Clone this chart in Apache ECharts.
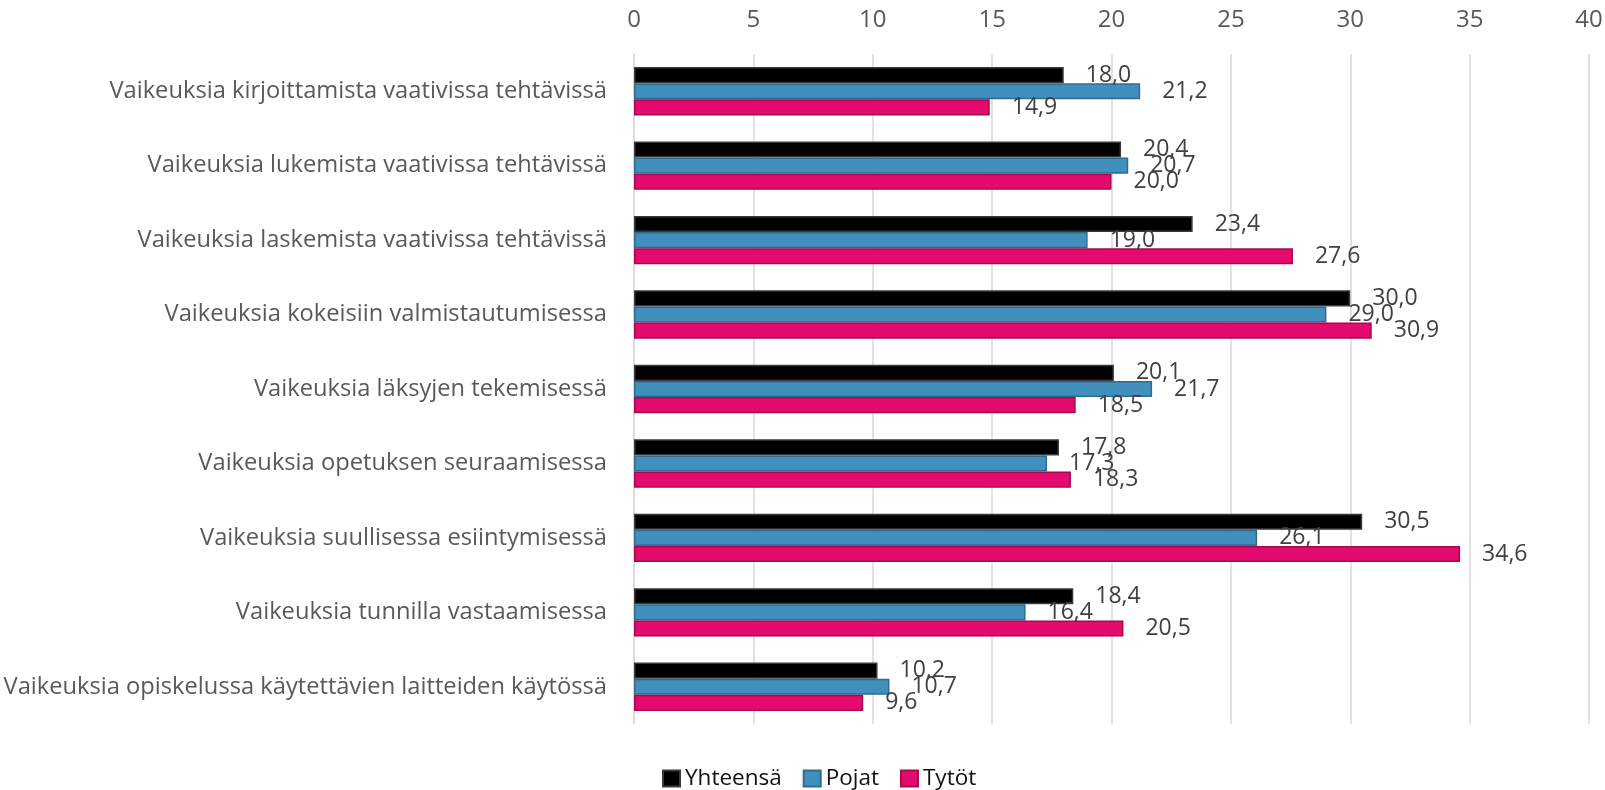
<!DOCTYPE html>
<html>
<head>
<meta charset="utf-8">
<script src="https://cdn.jsdelivr.net/npm/echarts@6/dist/echarts.min.js"></script>
<style>
  html, body { margin: 0; padding: 0; background: #fff; }
  #chart { width: 1605px; height: 790px; }
</style>
</head>
<body>
<div id="chart"></div>
<script>
// kategoriat ylhäältä alas
const categories = [
    'Vaikeuksia kirjoittamista vaativissa tehtävissä',
    'Vaikeuksia lukemista vaativissa tehtävissä',
    'Vaikeuksia laskemista vaativissa tehtävissä',
    'Vaikeuksia kokeisiin valmistautumisessa',
    'Vaikeuksia läksyjen tekemisessä',
    'Vaikeuksia opetuksen seuraamisessa',
    'Vaikeuksia suullisessa esiintymisessä',
    'Vaikeuksia tunnilla vastaamisessa',
    'Vaikeuksia opiskelussa käytettävien laitteiden käytössä'
];
const seriesNames = ['Yhteensä', 'Pojat', 'Tytöt'];
const yhteensa = [18.0, 20.4, 23.4, 30.0, 20.1, 17.8, 30.5, 18.4, 10.2];
const pojat = [21.2, 20.7, 19.0, 29.0, 21.7, 17.3, 26.1, 16.4, 10.7];
const tytot = [14.9, 20.0, 27.6, 30.9, 18.5, 18.3, 34.6, 20.5, 9.6];
const xTicks = [0, 5, 10, 15, 20, 25, 30, 35, 40];

const FONT = '"Open Sans", "Noto Sans", sans-serif';

let myChart = echarts.init(document.getElementById('chart'));

function barSeries(name, data, fill, border) {
    return {
        name: name,
        type: 'bar',
        data: data,
        barGap: '0%',
        barCategoryGap: '35%',
        itemStyle: { color: fill, borderColor: border, borderWidth: 1.5 },
        label: {
            show: true,
            position: 'right',
            distance: 22,
            color: '#404040',
            fontSize: 23,
            fontFamily: FONT,
            formatter: p => p.value.toFixed(1).replace('.', ',')
        }
    };
}

let option = {
    animation: false,
    grid: { left: 634, right: 16, top: 54, bottom: 66, containLabel: false, outerBoundsMode: 'none' },
    xAxis: {
        type: 'value',
        position: 'top',
        min: xTicks[0],
        max: xTicks[xTicks.length - 1],
        interval: 5,
        axisLine: { show: false },
        axisTick: { show: false },
        axisLabel: { color: '#595959', fontSize: 24, fontFamily: FONT, margin: 22 },
        splitLine: { lineStyle: { color: '#d9d9d9', width: 1.5 } }
    },
    yAxis: {
        type: 'category',
        data: categories,
        inverse: true,
        axisLine: { lineStyle: { color: '#d9d9d9', width: 1.5 } },
        axisTick: { show: false },
        axisLabel: { color: '#595959', fontSize: 23.7, fontFamily: FONT, margin: 27 }
    },
    legend: {
        data: seriesNames,
        left: 657,
        top: 762,
        icon: 'rect',
        itemWidth: 17,
        itemHeight: 16,
        itemGap: 21,
        textStyle: { color: '#111', fontSize: 22.5, fontFamily: FONT }
    },
    series: [
        barSeries(seriesNames[0], yhteensa, '#000000', '#3a3a3a'),
        barSeries(seriesNames[1], pojat, '#408fbd', '#2e6b90'),
        barSeries(seriesNames[2], tytot, '#e30b6d', '#a8084f')
    ]
};
myChart.setOption(option);
</script>
</body>
</html>
